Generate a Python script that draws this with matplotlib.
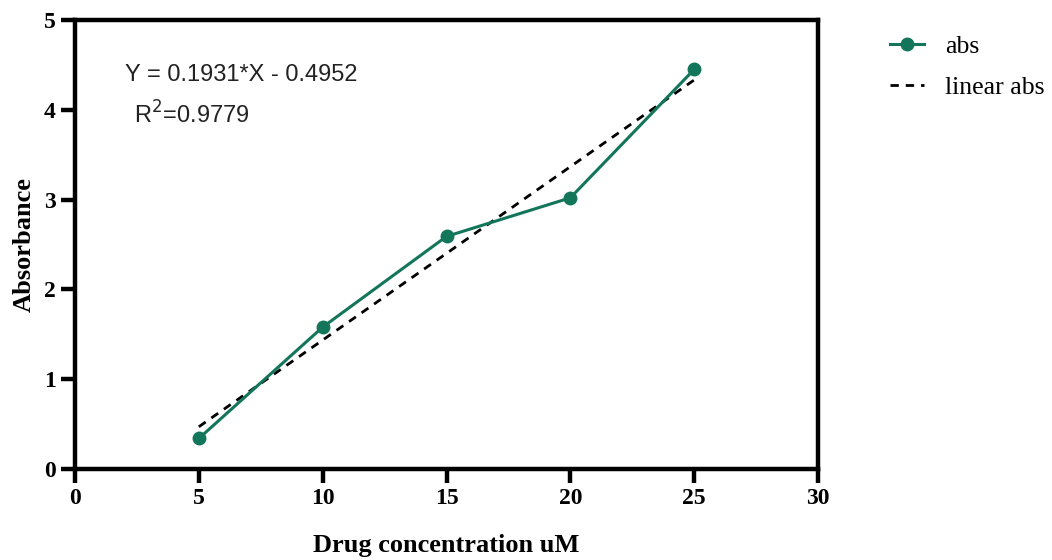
import matplotlib

matplotlib.use("Agg")
import matplotlib.pyplot as plt
import numpy as np

concentration = [5, 10, 15, 20, 25]
absorbance = [0.34, 1.58, 2.59, 3.02, 4.45]
slope = 0.1931
intercept = -0.4952
r_squared = 0.9779
x_ticks = [0, 5, 10, 15, 20, 25, 30]
y_ticks = [0, 1, 2, 3, 4, 5]

green = "#13755a"

plt.rcParams["font.family"] = ["Liberation Serif", "DejaVu Serif"]

fig = plt.figure(figsize=(10.52, 5.6), dpi=100)
ax = fig.add_axes([0.0713, 0.1625, 0.7063, 0.8018])

x = np.array(concentration, dtype=float)
ax.plot(x, absorbance, color=green, linewidth=2.2, marker="o", markersize=9, label="abs", zorder=3)
ax.plot(x, slope * x + intercept, color="black", linestyle=(0, (3, 2.5)), linewidth=2, label="linear abs", zorder=2)

ax.set_xlim(0, 30)
ax.set_ylim(0, 5)
ax.set_xticks(x_ticks)
ax.set_yticks(y_ticks)
for s in ax.spines.values():
    s.set_linewidth(3.2)
ax.tick_params(width=3.2, length=10, labelsize=17, pad=4)
for lbl in ax.get_xticklabels() + ax.get_yticklabels():
    lbl.set_fontweight("bold")

ax.set_xlabel("Drug concentration uM", fontsize=19, fontweight="bold", labelpad=18)
ax.set_ylabel("Absorbance", fontsize=19, fontweight="bold", labelpad=6)

ax.text(2.03, 4.39, f"Y = {slope}*X - {abs(intercept)}", fontsize=17, va="center",
        family="Liberation Sans", color="#222222")
ax.text(2.37, 3.94, f"R$^2$={r_squared}", fontsize=17, va="center",
        family="Liberation Sans", color="#222222")

fig.legend(loc="upper left", bbox_to_anchor=(0.834, 0.961), frameon=False, fontsize=18.5,
           borderpad=0, handlelength=1.3, handletextpad=0.85, labelspacing=0.7)

fig.savefig("out.png", dpi=100)
